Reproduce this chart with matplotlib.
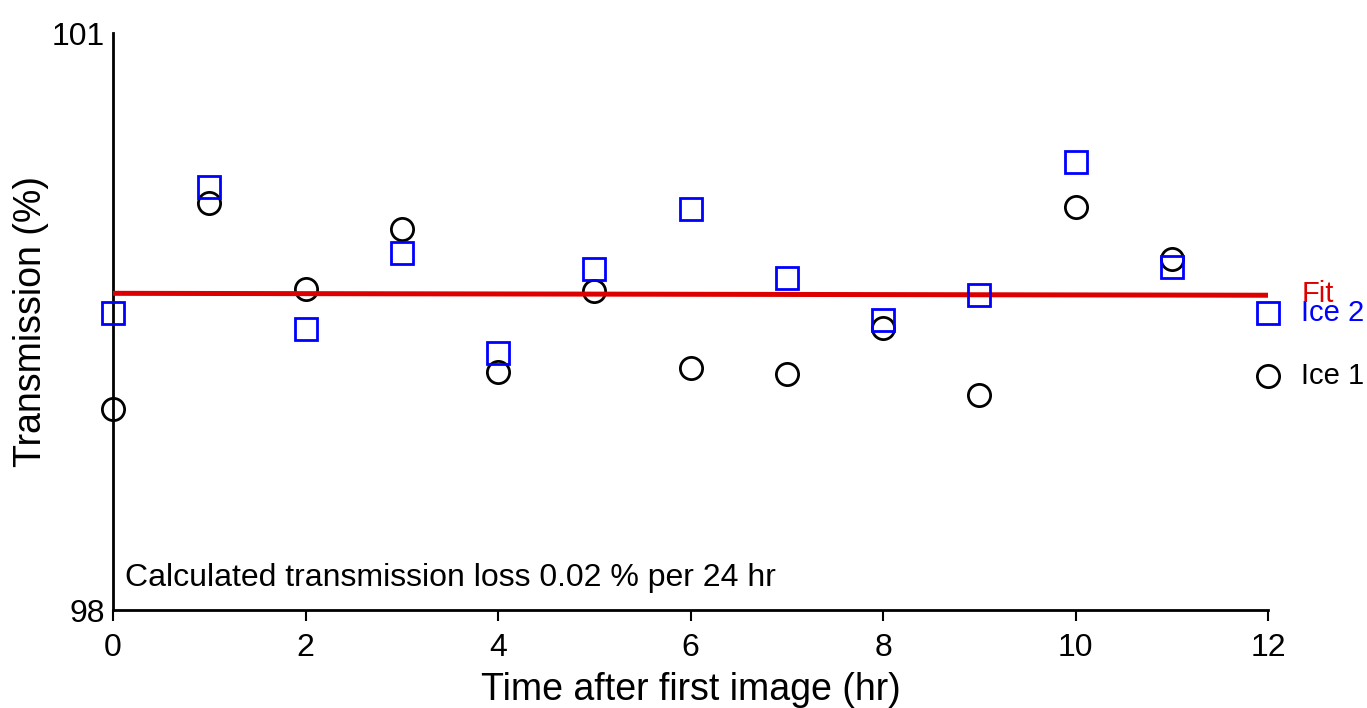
import numpy as np
import matplotlib.pyplot as plt

plt.rcParams['font.family'] = ['Liberation Sans', 'DejaVu Sans']

hours = np.arange(0, 13)
ice1 = [99.045, 100.116, 99.669, 99.981, 99.237, 99.658, 99.258,
        99.227, 99.466, 99.117, 100.095, 99.825, 99.216]
ice2 = [99.544, 100.199, 99.461, 99.856, 99.336, 99.773, 100.085,
        99.726, 99.508, 99.638, 100.329, 99.783, 99.544]
fit_start, fit_end = 99.648, 99.638

fig, ax = plt.subplots(figsize=(13.67, 7.08), dpi=100)
fig.subplots_adjust(left=0.0827, right=0.9276, bottom=0.138, top=0.953)

fit_x = [hours[0], hours[-1]]
fit_y = [fit_start, fit_end]

ax.plot(hours, ice1, 'o', ms=16, mfc='none', mec='black', mew=2,
        clip_on=False, zorder=3)
ax.plot(hours, ice2, 's', ms=16, mfc='none', mec='#0000ff', mew=2,
        clip_on=False, zorder=4)
ax.plot(fit_x, fit_y, '-', color='#dd0000', lw=3.6, zorder=3.5,
        solid_capstyle='butt')

ax.annotate('Ice 1', (hours[-1], ice1[-1]), xytext=(24, 0),
            textcoords='offset points', va='center', ha='left',
            fontsize=21, color='black', annotation_clip=False)
ax.annotate('Ice 2', (hours[-1], ice2[-1]), xytext=(24, 0),
            textcoords='offset points', va='center', ha='left',
            fontsize=21, color='#0000ff', annotation_clip=False)
ax.annotate('Fit', (hours[-1], fit_end), xytext=(24, 1),
            textcoords='offset points', va='center', ha='left',
            fontsize=21, color='#dd0000', annotation_clip=False)

ax.text(0.01, 0.03, 'Calculated transmission loss 0.02 % per 24 hr',
        transform=ax.transAxes, fontsize=23, ha='left', va='bottom')

ax.set_xlim(0, 12)
ax.set_ylim(98, 101)
ax.set_xticks(np.arange(0, 13, 2))
ax.set_yticks([98, 101])
ax.tick_params(axis='x', direction='out', length=8, width=1.5,
               labelsize=23, pad=8)
ax.tick_params(axis='y', length=0, labelsize=23, pad=6)

for side in ['top', 'right']:
    ax.spines[side].set_visible(False)
for side in ['left', 'bottom']:
    ax.spines[side].set_linewidth(2)

ax.set_xlabel('Time after first image (hr)', fontsize=27, labelpad=7)
ax.set_ylabel('Transmission (%)', fontsize=27, labelpad=2)

plt.savefig('out.png', dpi=100)
